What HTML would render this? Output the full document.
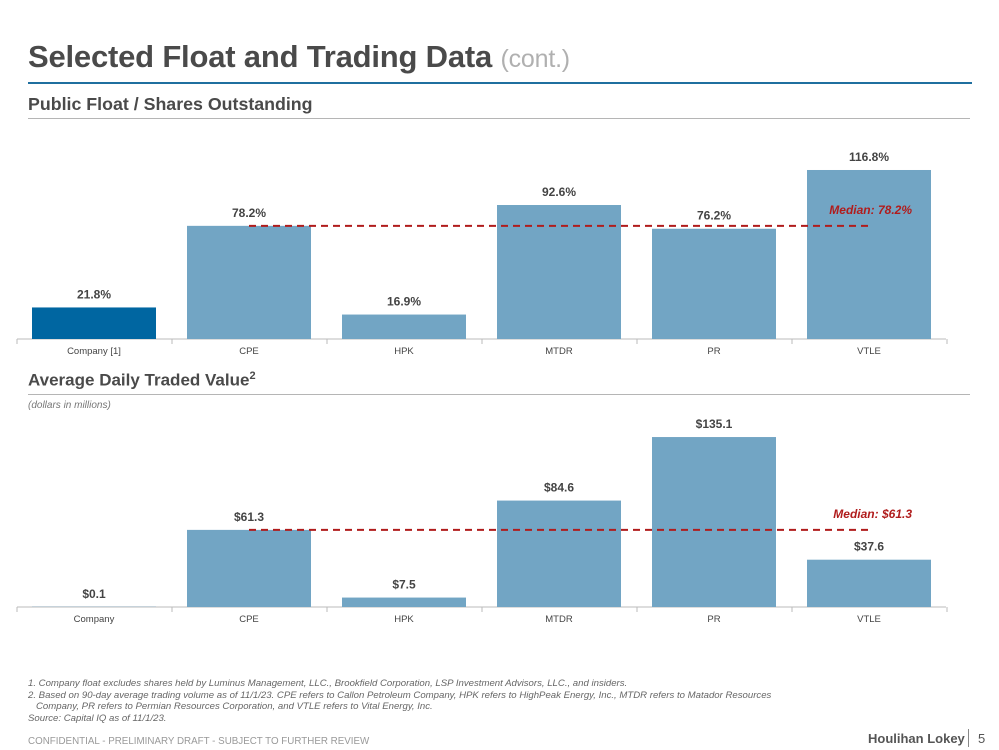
<!DOCTYPE html>
<html><head><meta charset="utf-8"><style>
body{margin:0;width:999px;height:750px;background:#fff;font-family:"Liberation Sans",Arial,sans-serif;position:relative;overflow:hidden}
.a{position:absolute;white-space:nowrap}
</style></head><body>
<div class="a" style="left:28px;top:39px;font-size:31px;font-weight:bold;color:#4a4a4a;letter-spacing:-0.2px">Selected Float and Trading Data <span style="font-weight:normal;color:#b0b0b0;font-size:25px">(cont.)</span></div>
<div class="a" style="left:28px;top:82px;width:944px;height:2px;background:#1f6f9f"></div>
<div class="a" style="left:28px;top:94px;font-size:17.8px;font-weight:bold;color:#4a4a4a">Public Float / Shares Outstanding</div>
<div class="a" style="left:28px;top:118px;width:942px;height:1px;background:#b5b5b5"></div>
<div class="a" style="left:28px;top:370px;font-size:17px;font-weight:bold;color:#4a4a4a">Average Daily Traded Value<sup style="font-size:11px">2</sup></div>
<div class="a" style="left:28px;top:394px;width:942px;height:1px;background:#b5b5b5"></div>
<div class="a" style="left:28px;top:400px;font-size:10px;font-style:italic;color:#777">(dollars in millions)</div>
<svg class="a" style="left:0;top:0" width="999" height="750" id="svg"></svg>
<div class="a" style="left:28px;top:678px;font-size:9.6px;font-style:italic;color:#666;line-height:11.5px">1. Company float excludes shares held by Luminus Management, LLC., Brookfield Corporation, LSP Investment Advisors, LLC., and insiders.<br>2. Based on 90-day average trading volume as of 11/1/23. CPE refers to Callon Petroleum Company, HPK refers to HighPeak Energy, Inc., MTDR refers to Matador Resources<br>&nbsp;&nbsp;&nbsp;Company, PR refers to Permian Resources Corporation, and VTLE refers to Vital Energy, Inc.<br>Source: Capital IQ as of 11/1/23.</div>
<div class="a" style="left:28px;top:736px;font-size:9.8px;color:#999">CONFIDENTIAL - PRELIMINARY DRAFT - SUBJECT TO FURTHER REVIEW</div>
<div class="a" style="left:868px;top:731px;font-size:13px;font-weight:bold;color:#555">Houlihan Lokey</div>
<div class="a" style="left:968px;top:729px;width:1px;height:18px;background:#888"></div>
<div class="a" style="left:978px;top:731px;font-size:13px;color:#555">5</div>
<script>
const cats1=["Company [1]","CPE","HPK","MTDR","PR","VTLE"];
const vals1=[21.8,78.2,16.9,92.6,76.2,116.8];
const labels1=["21.8%","78.2%","16.9%","92.6%","76.2%","116.8%"];
const median1=78.2;
const medianLabel1="Median: 78.2%";
const cats2=["Company","CPE","HPK","MTDR","PR","VTLE"];
const vals2=[0.1,61.3,7.5,84.6,135.1,37.6];
const labels2=["$0.1","$61.3","$7.5","$84.6","$135.1","$37.6"];
const median2=61.3;
const medianLabel2="Median: $61.3";
const svg=document.getElementById('svg');
const NS="http://www.w3.org/2000/svg";
function mk(t,a){const e=document.createElementNS(NS,t);for(const k in a)e.setAttribute(k,a[k]);svg.appendChild(e);return e;}
function chart(cats,vals,labels,med,medLbl,base,scale,key){
  const x=i=>94+155*i, y=v=>base-v*scale;
  const ax=mk('line',{x1:17,x2:946,y1:base,y2:base,stroke:'#bbb','stroke-width':1});
  
  for(let i=0;i<=cats.length;i++){const t=mk('line',{x1:17+155*i,x2:17+155*i,y1:base,y2:base+5,stroke:'#bbb'});
    }
  vals.forEach((v,i)=>{
    const r=mk('rect',{x:x(i)-62,y:y(v),width:124,height:v*scale,fill:i==0?'#0066a1':'#72a5c4'});
    
    
    const l=mk('text',{x:x(i),y:y(v)-9,'text-anchor':'middle','font-size':12,'font-weight':'bold',fill:'#444'});l.textContent=labels[i];
    
    const c=mk('text',{x:x(i),y:base+15,'text-anchor':'middle','font-size':9.5,fill:'#444'});c.textContent=cats[i];
    
  });
  const m=mk('line',{x1:x(1),x2:x(5),y1:y(med),y2:y(med),stroke:'#b01c1c','stroke-width':2,'stroke-dasharray':'7,5'});
  
  const ml=mk('text',{x:912,y:y(med)-12,'text-anchor':'end','font-size':12,'font-weight':'bold','font-style':'italic',fill:'#b01c1c'});ml.textContent=medLbl;
  
}
chart(cats1,vals1,labels1,median1,medianLabel1,339,1.447,'float');
chart(cats2,vals2,labels2,median2,medianLabel2,607,1.258,'adtv');
</script>
</body></html>
